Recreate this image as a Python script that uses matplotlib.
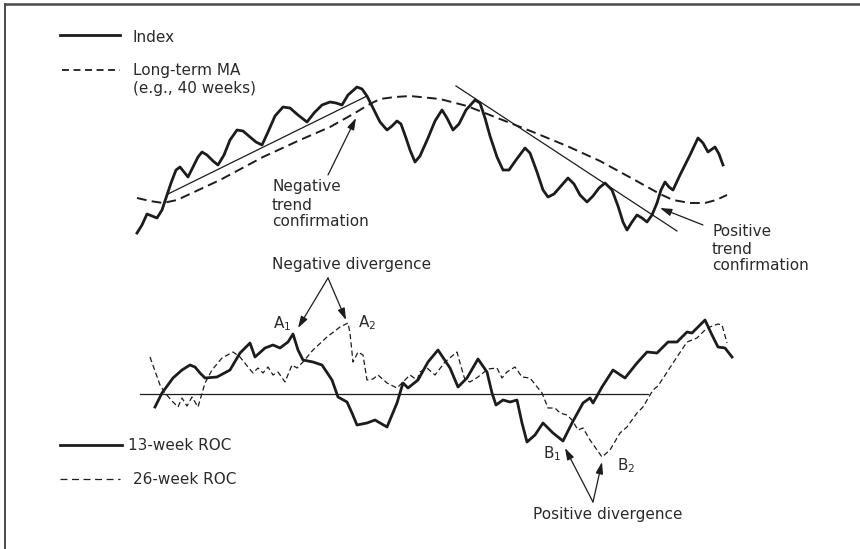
import matplotlib
matplotlib.use("Agg")
import matplotlib.pyplot as plt
from matplotlib.lines import Line2D

# --- Data (in picture units: x right, y down) ---
index_x = [137, 142, 147, 152, 157, 162, 166, 171, 176, 180, 184, 188, 193, 198, 202, 207, 213, 218,
           224, 230, 237, 243, 250, 256, 262, 268, 275, 283, 290, 298, 307, 314, 322, 330, 336, 342,
           348, 357, 362, 367, 373, 380, 387, 392, 397, 401, 406, 410, 415, 420, 428, 435, 442, 447,
           453, 459, 466, 475, 480, 485, 490, 497, 503, 509, 516, 525, 530, 537, 543, 548, 554, 561,
           568, 574, 580, 587, 593, 599, 605, 612, 618, 623, 627, 632, 637, 642, 647, 652, 657, 661,
           665, 669, 673, 680, 690, 698, 703, 708, 715, 719, 723]
index_y = [233, 225, 214, 216, 218, 210, 198, 183, 170, 167, 172, 177, 167, 157, 152, 155, 161, 165,
           155, 140, 130, 131, 137, 142, 145, 132, 116, 107, 108, 115, 122, 113, 105, 102, 103, 105,
           95, 87, 89, 96, 108, 122, 130, 126, 121, 124, 138, 150, 162, 156, 138, 121, 110, 118,
           130, 124, 110, 100, 103, 118, 136, 157, 170, 170, 160, 148, 153, 172, 190, 197, 194, 186,
           178, 184, 195, 202, 196, 188, 183, 190, 206, 222, 230, 222, 215, 218, 222, 215, 203, 190,
           182, 187, 190, 175, 155, 138, 143, 152, 147, 154, 165]

ma_x = [137, 150, 163, 177, 220, 263, 300, 330, 355, 368, 380, 395, 410, 440, 467, 500, 533,
        567, 600, 633, 660, 673, 690, 705, 716, 727]
ma_y = [198, 201, 203, 200, 180, 157, 140, 127, 113, 105, 99, 97, 96, 99, 106, 119, 132,
        146, 161, 179, 194, 200, 203, 203, 200, 195]

up_trend_x = [168, 367]
up_trend_y = [194, 96]
down_trend_x = [456, 677]
down_trend_y = [86, 231]

roc13_x = [155, 162, 173, 182, 190, 195, 200, 205, 217, 230, 240, 250, 255, 265, 273, 280, 288,
           293, 298, 303, 313, 322, 332, 338, 347, 352, 357, 367, 375, 387, 397, 403, 408, 418,
           428, 438, 450, 458, 467, 478, 487, 492, 496, 503, 510, 517, 522, 527, 535, 543, 553,
           563, 572, 583, 590, 593, 602, 613, 625, 637, 647, 657, 668, 677, 687, 692, 705, 712,
           718, 725, 732]
roc13_y = [407, 393, 378, 370, 365, 367, 373, 378, 377, 370, 353, 343, 357, 348, 345, 348, 342,
           334, 350, 360, 362, 365, 380, 397, 402, 413, 425, 423, 420, 427, 403, 383, 388, 380,
           362, 350, 368, 387, 378, 359, 372, 393, 405, 400, 402, 400, 423, 442, 435, 423, 433,
           441, 423, 403, 398, 403, 387, 370, 378, 363, 352, 353, 342, 342, 332, 333, 320, 335,
           347, 348, 357]

roc26_x = [150, 160, 165, 173, 178, 182, 187, 192, 198, 205, 212, 222, 233, 240, 248, 253, 258,
           263, 268, 273, 278, 285, 292, 297, 303, 313, 327, 340, 348, 350, 353, 358, 363, 367,
           373, 378, 387, 397, 403, 410, 417, 420, 427, 435, 445, 457, 460, 465, 470, 478, 488,
           497, 502, 507, 515, 522, 530, 542, 548, 555, 560, 567, 572, 578, 583, 590, 602, 610,
           620, 627, 637, 643, 653, 658, 673, 687, 697, 707, 718, 722, 727]
roc26_y = [357, 385, 393, 402, 407, 398, 406, 397, 407, 383, 370, 358, 352, 357, 367, 373, 368,
           373, 367, 375, 372, 382, 365, 368, 362, 350, 337, 327, 323, 333, 362, 352, 355, 380,
           379, 375, 383, 388, 382, 375, 380, 372, 368, 375, 362, 352, 363, 380, 382, 377, 369,
           368, 378, 372, 367, 377, 378, 393, 408, 408, 413, 415, 420, 430, 428, 440, 457, 450,
           433, 427, 413, 407, 390, 386, 363, 342, 338, 328, 324, 325, 343]

zero_x = [140, 648]
zero_y = [394, 394]

INK = "#1c1c1c"
TXT = "#2a2a2a"
FS = 11

plt.rcParams["lines.scale_dashes"] = False
plt.rcParams["mathtext.default"] = "regular"

fig = plt.figure(figsize=(8.6, 5.49), dpi=100)
ax = fig.add_axes([0, 0, 1, 1])
ax.set_xlim(0, 860)
ax.set_ylim(549, 0)
ax.axis("off")

# frame (only top and left edges show)
ax.add_line(Line2D([4.5, 4.5], [549, 3.5], color="#4a4a4a", lw=1.4))
ax.add_line(Line2D([4.5, 860], [3.5, 3.5], color="#4a4a4a", lw=1.8))

# --- upper panel ---
ax.plot(ma_x, ma_y, color=INK, lw=1.4, dashes=(7, 3.8))
ax.plot(up_trend_x, up_trend_y, color=INK, lw=0.9)
ax.plot(down_trend_x, down_trend_y, color=INK, lw=0.9)
ax.plot(index_x, index_y, color=INK, lw=2.0, solid_joinstyle="round")

# legend, top
ax.plot([60, 120], [35, 35], color=INK, lw=2.0)
ax.plot([62, 120], [70, 70], color=INK, lw=1.3, dashes=(5, 3.3))
ax.text(133, 38, "Index", fontsize=FS, color=TXT, va="center")
ax.text(133, 71, "Long-term MA", fontsize=FS, color=TXT, va="center")
ax.text(133, 89, "(e.g., 40 weeks)", fontsize=FS, color=TXT, va="center")

arrow = dict(arrowstyle="-|>,head_length=0.7,head_width=0.22", color=INK, lw=0.9,
             shrinkA=0, shrinkB=0)
ax.annotate("", xy=(356, 118), xytext=(328, 175), arrowprops=arrow)
ax.text(272, 187, "Negative", fontsize=FS, color=TXT, va="center")
ax.text(272, 205, "trend", fontsize=FS, color=TXT, va="center")
ax.text(272, 222, "confirmation", fontsize=FS, color=TXT, va="center")

ax.annotate("", xy=(660, 208), xytext=(703, 225), arrowprops=arrow)
ax.text(712, 232, "Positive", fontsize=FS, color=TXT, va="center")
ax.text(712, 249, "trend", fontsize=FS, color=TXT, va="center")
ax.text(712, 266, "confirmation", fontsize=FS, color=TXT, va="center")

# --- lower panel ---
ax.plot(zero_x, zero_y, color=INK, lw=0.9)
ax.plot(roc26_x, roc26_y, color=INK, lw=0.9, dashes=(3.8, 2.2))
ax.plot(roc13_x, roc13_y, color=INK, lw=2.0, solid_joinstyle="round")

ax.plot([60, 122], [445, 445], color=INK, lw=2.0)
ax.plot([60, 120], [479, 479], color=INK, lw=0.9, dashes=(5, 3.3))
ax.text(128, 446, "13-week ROC", fontsize=FS, color=TXT, va="center")
ax.text(133, 479, "26-week ROC", fontsize=FS, color=TXT, va="center")

ax.text(272, 265, "Negative divergence", fontsize=FS, color=TXT, va="center")
ax.annotate("", xy=(298, 328), xytext=(328, 278), arrowprops=arrow)
ax.annotate("", xy=(346, 320), xytext=(328, 278), arrowprops=arrow)
ax.text(273, 324, "$A_1$", fontsize=FS, color=TXT, va="center")
ax.text(358, 323, "$A_2$", fontsize=FS, color=TXT, va="center")

ax.text(533, 515, "Positive divergence", fontsize=FS, color=TXT, va="center")
ax.annotate("", xy=(565, 448), xytext=(593, 502), arrowprops=arrow)
ax.annotate("", xy=(602, 462), xytext=(593, 502), arrowprops=arrow)
ax.text(543, 454, "$B_1$", fontsize=FS, color=TXT, va="center")
ax.text(617, 466, "$B_2$", fontsize=FS, color=TXT, va="center")

fig.savefig("out.png", dpi=100, facecolor="white")
